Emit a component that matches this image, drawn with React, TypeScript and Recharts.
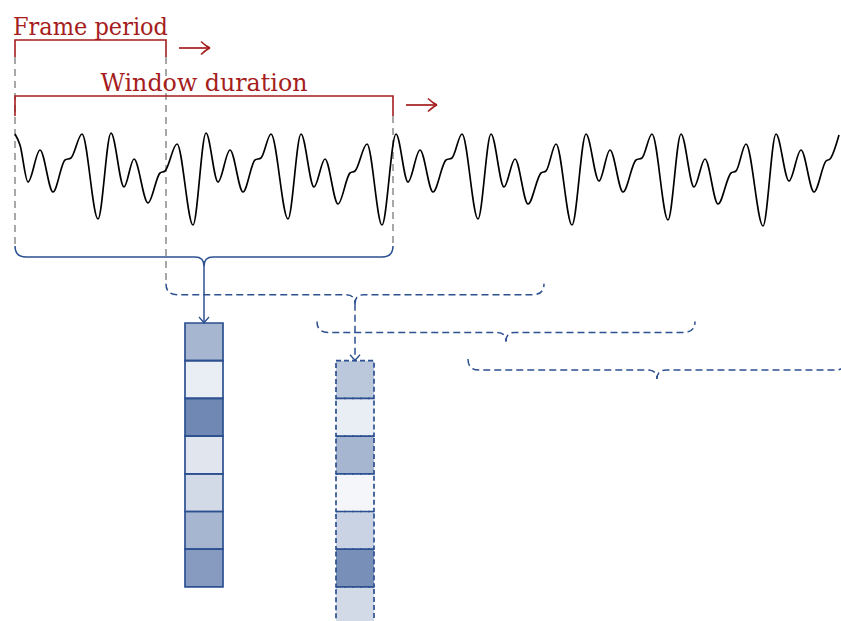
import { ComposedChart, Line, XAxis, YAxis, ReferenceArea } from 'recharts'

const WIDTH = 841
const HEIGHT = 621

// signal: sample position and level (y grows downward)
const waveX = [15, 20, 28, 40, 53, 65, 71, 82, 98, 111, 124, 134, 148, 160, 165, 177, 193,
  206, 218, 230, 243, 255, 261, 271, 288, 301, 314, 325, 338, 350, 355, 367, 382,
  396, 408, 420, 433, 446, 452, 462, 478, 491, 504, 515, 528, 541, 546, 556, 572,
  586, 599, 610, 623, 636, 642, 652, 668, 681, 694, 705, 718, 731, 736, 746, 763,
  776, 789, 801, 814, 826, 830, 839]
const waveY = [134, 145, 182, 150, 192, 160, 158, 134, 219, 133, 187, 159, 203, 173, 171, 144, 225,
  133, 182, 150, 192, 160, 158, 134, 219, 134, 187, 159, 204, 173, 171, 144, 225,
  134, 182, 150, 192, 160, 158, 134, 219, 134, 187, 159, 204, 173, 171, 144, 225,
  134, 181, 150, 192, 160, 158, 134, 220, 134, 187, 159, 204, 173, 171, 144, 226,
  134, 181, 150, 192, 161, 159, 135]

// framing: where each analysis window starts, and how long it is
const frameStarts = [15, 166, 317, 468]
const windowLength = 378

// feature vectors (cell shade) of the first two frames
const featureA = [0.42, 0.1, 0.68, 0.15, 0.21, 0.42, 0.57]
const featureB = [0.32, 0.1, 0.42, 0.05, 0.25, 0.64, 0.21]

// layout
const BRACE_TOP = 257
const BRACE_STEP = 37.7
const CUSP = 9
const END_RISE = 11
const COL_GAP = 66
const CELL_W = 38
const FRAME_BAR_Y = 40
const WINDOW_BAR_Y = 96

const RED = '#a51d1d'
const BLUE = '#2c5090'
const GRAY = '#8c8c8c'
const DASH = '7 4'

type Pt = { x: number; y: number }
type Seg = {
  id: string
  data: Pt[]
  stroke: string
  width: number
  dash?: string
  curve?: 'linear' | 'monotone' | 'rounded'
}

// polyline whose inner corners are rounded off, used for the braces
function roundedCurve(radius: number) {
  return (context: any) => {
    let pts: [number, number][] = []
    return {
      areaStart() {},
      areaEnd() {},
      lineStart() {
        pts = []
      },
      point(x: number, y: number) {
        pts.push([+x, +y])
      },
      lineEnd() {
        if (!pts.length) return
        context.moveTo(pts[0][0], pts[0][1])
        for (let i = 1; i < pts.length - 1; i++) {
          const [px, py] = pts[i - 1]
          const [cx, cy] = pts[i]
          const [nx, ny] = pts[i + 1]
          const d1 = Math.hypot(cx - px, cy - py)
          const d2 = Math.hypot(nx - cx, ny - cy)
          const r = Math.min(radius, d1, d2)
          context.lineTo(cx - ((cx - px) / d1) * r, cy - ((cy - py) / d1) * r)
          context.quadraticCurveTo(cx, cy, cx + ((nx - cx) / d2) * r, cy + ((ny - cy) / d2) * r)
        }
        const last = pts[pts.length - 1]
        context.lineTo(last[0], last[1])
      },
    }
  }
}
const rounded = roundedCurve(12)

const wave: Pt[] = waveX.map((x, i) => ({ x, y: waveY[i] }))
const braceLevel = (i: number) => BRACE_TOP + i * BRACE_STEP
const centerOf = (i: number) => frameStarts[i] + windowLength / 2

function brace(i: number, dash?: string): Seg[] {
  const s = frameStarts[i]
  const e = s + windowLength
  const c = centerOf(i)
  const L = braceLevel(i)
  const left = [{ x: s, y: L - END_RISE }, { x: s, y: L }, { x: c, y: L }, { x: c, y: L + CUSP }]
  const right = [{ x: c, y: L + CUSP }, { x: c, y: L }, { x: e, y: L }, { x: e, y: L - END_RISE }]
  return [
    { id: `brace-l-${i}`, data: left, stroke: BLUE, width: 1.5, dash, curve: 'rounded' },
    { id: `brace-r-${i}`, data: right, stroke: BLUE, width: 1.5, dash, curve: 'rounded' },
  ]
}

function arrowDown(i: number, dash?: string): Seg[] {
  const c = centerOf(i)
  const from = braceLevel(i) + CUSP
  const to = braceLevel(i) + COL_GAP
  return [
    { id: `arrow-${i}`, data: [{ x: c, y: from }, { x: c, y: to }], stroke: BLUE, width: 1.5, dash },
    {
      id: `head-${i}`,
      data: [{ x: c - 5, y: to - 6 }, { x: c - 1.5, y: to - 2 }, { x: c, y: to }, { x: c + 1.5, y: to - 2 }, { x: c + 5, y: to - 6 }],
      stroke: BLUE,
      width: 1.3,
    },
  ]
}

function rightArrow(id: string, x0: number, x1: number, y: number): Seg[] {
  return [
    { id, data: [{ x: x0, y }, { x: x1, y }], stroke: RED, width: 1.7 },
    {
      id: `${id}-head`,
      data: [{ x: x1 - 9, y: y - 6.5 }, { x: x1 - 3.5, y: y - 2 }, { x: x1, y }],
      stroke: RED,
      width: 1.6,
      curve: 'monotone',
    },
    {
      id: `${id}-head2`,
      data: [{ x: x1 - 9, y: y + 6.5 }, { x: x1 - 3.5, y: y + 2 }, { x: x1, y }],
      stroke: RED,
      width: 1.6,
      curve: 'monotone',
    },
  ]
}

const winEnd = frameStarts[0] + windowLength

const segments: Seg[] = [
  // gray guides dropping from the brackets
  { id: 'g0', data: [{ x: frameStarts[0], y: 57 }, { x: frameStarts[0], y: braceLevel(0) - END_RISE }], stroke: GRAY, width: 1.5, dash: '7 5' },
  { id: 'g1', data: [{ x: frameStarts[1], y: 57 }, { x: frameStarts[1], y: braceLevel(1) - END_RISE }], stroke: GRAY, width: 1.5, dash: '7 5' },
  { id: 'g2', data: [{ x: winEnd, y: 116 }, { x: winEnd, y: braceLevel(0) - END_RISE }], stroke: GRAY, width: 1.5, dash: '7 5' },
  // red brackets
  {
    id: 'frameBar',
    data: [{ x: frameStarts[0], y: 57 }, { x: frameStarts[0], y: FRAME_BAR_Y }, { x: frameStarts[1], y: FRAME_BAR_Y }, { x: frameStarts[1], y: 57 }],
    stroke: RED,
    width: 1.6,
  },
  {
    id: 'windowBar',
    data: [{ x: frameStarts[0], y: 116 }, { x: frameStarts[0], y: WINDOW_BAR_Y }, { x: winEnd, y: WINDOW_BAR_Y }, { x: winEnd, y: 116 }],
    stroke: RED,
    width: 1.6,
  },
  ...rightArrow('arrowFrame', 179, 210, 48),
  ...rightArrow('arrowWindow', 406, 437, 105),
  // braces over each window
  ...brace(0),
  ...brace(1, DASH),
  ...brace(2, DASH),
  ...brace(3, DASH),
  ...arrowDown(0),
  ...arrowDown(1, DASH),
]

const columns = [
  { id: 'a', frame: 0, values: featureA, dash: undefined as string | undefined },
  { id: 'b', frame: 1, values: featureB, dash: '5 3' },
]

export default function App() {
  return (
    <div style={{ position: 'absolute', left: 0, top: 0, width: WIDTH, height: HEIGHT, background: '#fff' }}>
      <ComposedChart width={WIDTH} height={HEIGHT} margin={{ top: 0, right: 0, bottom: 0, left: 0 }}>
        <XAxis type="number" dataKey="x" domain={[0, WIDTH]} allowDataOverflow hide />
        <YAxis type="number" domain={[0, HEIGHT]} reversed allowDataOverflow hide />
        {columns.map((col) =>
          col.values.map((v, j) => {
            const cx = centerOf(col.frame)
            const top = braceLevel(col.frame) + COL_GAP
            return (
              <ReferenceArea
                key={`${col.id}-${j}`}
                x1={cx - CELL_W / 2}
                x2={cx + CELL_W / 2}
                y1={top + j * BRACE_STEP}
                y2={top + (j + 1) * BRACE_STEP}
                fill={BLUE}
                fillOpacity={v}
                stroke={BLUE}
                strokeOpacity={1}
                strokeWidth={1.7}
                strokeDasharray={col.dash}
                ifOverflow="visible"
              />
            )
          })
        )}
        {segments.map((s) => (
          <Line
            key={s.id}
            data={s.data}
            dataKey="y"
            type={s.curve === 'rounded' ? (rounded as any) : s.curve ?? 'linear'}
            stroke={s.stroke}
            strokeWidth={s.width}
            strokeDasharray={s.dash}
            dot={false}
            activeDot={false}
            isAnimationActive={false}
          />
        ))}
        <Line
          data={wave}
          dataKey="y"
          type="monotone"
          stroke="#000"
          strokeWidth={1.7}
          dot={false}
          activeDot={false}
          isAnimationActive={false}
        />
      </ComposedChart>
      <svg
        width={WIDTH}
        height={HEIGHT}
        style={{ position: 'absolute', left: 0, top: 0, pointerEvents: 'none' }}
      >
        <g fontFamily="'DejaVu Serif', serif" fontSize={23.5} fill={RED} textAnchor="middle">
          <text x={(frameStarts[0] + frameStarts[1]) / 2} y={35} textLength={155} lengthAdjust="spacingAndGlyphs">
            Frame period
          </text>
          <text x={frameStarts[0] + windowLength / 2} y={91} textLength={207} lengthAdjust="spacingAndGlyphs">
            Window duration
          </text>
        </g>
      </svg>
    </div>
  )
}
